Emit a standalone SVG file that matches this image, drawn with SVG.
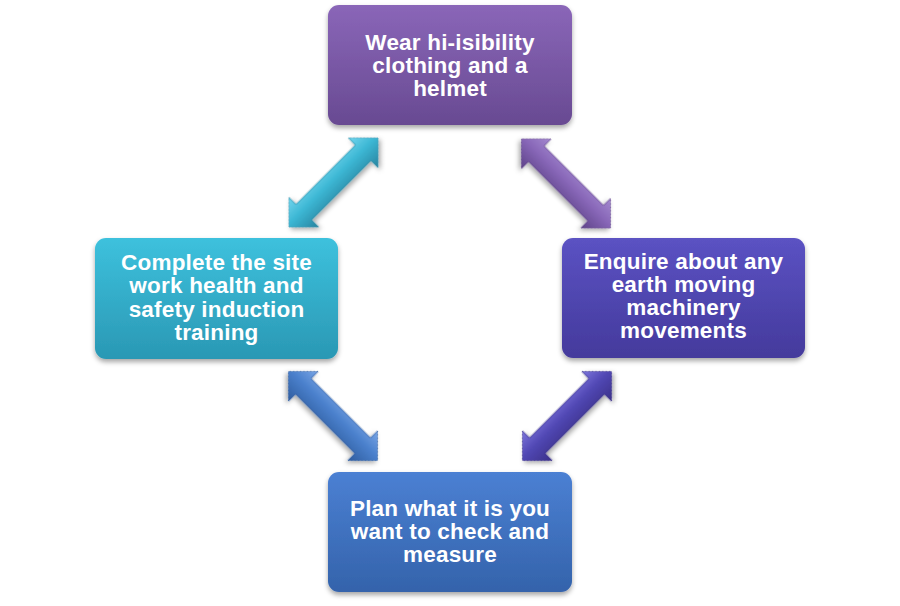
<svg xmlns="http://www.w3.org/2000/svg" width="900" height="606" viewBox="0 0 900 606">
<defs>
<style>
.lbl{font-family:"Liberation Sans",Arial,sans-serif;font-weight:bold;font-size:22.5px;letter-spacing:0.2px;fill:#ffffff;text-anchor:middle}
.box{filter:url(#sh)}
</style>
<filter id="sh" x="-10%" y="-10%" width="120%" height="130%">
<feDropShadow dx="0" dy="3" stdDeviation="2.5" flood-color="#000" flood-opacity="0.35"/>
</filter>
<linearGradient id="gP" x1="0" y1="0" x2="0" y2="1"><stop offset="0" stop-color="#8a66b8"/><stop offset="1" stop-color="#684a92"/></linearGradient>
<linearGradient id="gC" x1="0" y1="0" x2="0" y2="1"><stop offset="0" stop-color="#3dc1dd"/><stop offset="1" stop-color="#2a98b4"/></linearGradient>
<linearGradient id="gI" x1="0" y1="0" x2="0" y2="1"><stop offset="0" stop-color="#5b52c3"/><stop offset="1" stop-color="#443a9c"/></linearGradient>
<linearGradient id="gB" x1="0" y1="0" x2="0" y2="1"><stop offset="0" stop-color="#4b80d3"/><stop offset="1" stop-color="#3463ab"/></linearGradient>
<linearGradient id="aC" x1="0" y1="0" x2="0" y2="1"><stop offset="0" stop-color="#74d6ee"/><stop offset="0.45" stop-color="#3cb7d4"/><stop offset="1" stop-color="#28839f"/></linearGradient>
<linearGradient id="aP" x1="0" y1="0" x2="0" y2="1"><stop offset="0" stop-color="#a58ad0"/><stop offset="0.45" stop-color="#8867b8"/><stop offset="1" stop-color="#5e4288"/></linearGradient>
<linearGradient id="aB" x1="0" y1="0" x2="0" y2="1"><stop offset="0" stop-color="#7aa6e6"/><stop offset="0.45" stop-color="#4a80cc"/><stop offset="1" stop-color="#2f5c9e"/></linearGradient>
<linearGradient id="aI" x1="0" y1="0" x2="0" y2="1"><stop offset="0" stop-color="#7d76dc"/><stop offset="0.45" stop-color="#5148b4"/><stop offset="1" stop-color="#3a3088"/></linearGradient>
<path id="arr" d="M63,0 L42,-21 L42,-11 L-42,-11 L-42,-21 L-63,0 L-42,21 L-42,11 L42,11 L42,21 Z"/>
</defs>
<rect width="900" height="606" fill="#ffffff"/>
<g id="connectors">
<use href="#arr" fill="url(#aC)" stroke="#2a8aa6" stroke-width="0.6" transform="translate(333.5,182.5) rotate(-45)" filter="url(#sh)"/>
<use href="#arr" fill="url(#aP)" stroke="#5e4288" stroke-width="0.6" transform="translate(566,183.5) rotate(45)" filter="url(#sh)"/>
<use href="#arr" fill="url(#aB)" stroke="#2f5c9e" stroke-width="0.6" transform="translate(333,416) rotate(45)" filter="url(#sh)"/>
<use href="#arr" fill="url(#aI)" stroke="#3a3088" stroke-width="0.6" transform="translate(567,416) rotate(-45)" filter="url(#sh)"/>
</g>
<g id="node-top">
<rect class="box" x="328" y="5" width="244" height="120" rx="11" fill="url(#gP)"/>
<text class="lbl" x="450" y="49.5">Wear hi-isibility</text>
<text class="lbl" x="450" y="72.8">clothing and a</text>
<text class="lbl" x="450" y="96.1">helmet</text>
</g>
<g id="node-left">
<rect class="box" x="95" y="238" width="243" height="121" rx="11" fill="url(#gC)"/>
<text class="lbl" x="216.5" y="270">Complete the site</text>
<text class="lbl" x="216.5" y="293.3">work health and</text>
<text class="lbl" x="216.5" y="316.6">safety induction</text>
<text class="lbl" x="216.5" y="339.9">training</text>
</g>
<g id="node-right">
<rect class="box" x="562" y="238" width="243" height="120" rx="11" fill="url(#gI)"/>
<text class="lbl" x="683.5" y="268.5">Enquire about any</text>
<text class="lbl" x="683.5" y="291.8">earth moving</text>
<text class="lbl" x="683.5" y="315.1">machinery</text>
<text class="lbl" x="683.5" y="338.4">movements</text>
</g>
<g id="node-bottom">
<rect class="box" x="328" y="472" width="244" height="120" rx="11" fill="url(#gB)"/>
<text class="lbl" x="450" y="515.5">Plan what it is you</text>
<text class="lbl" x="450" y="538.8">want to check and</text>
<text class="lbl" x="450" y="562.1">measure</text>
</g>
</svg>
